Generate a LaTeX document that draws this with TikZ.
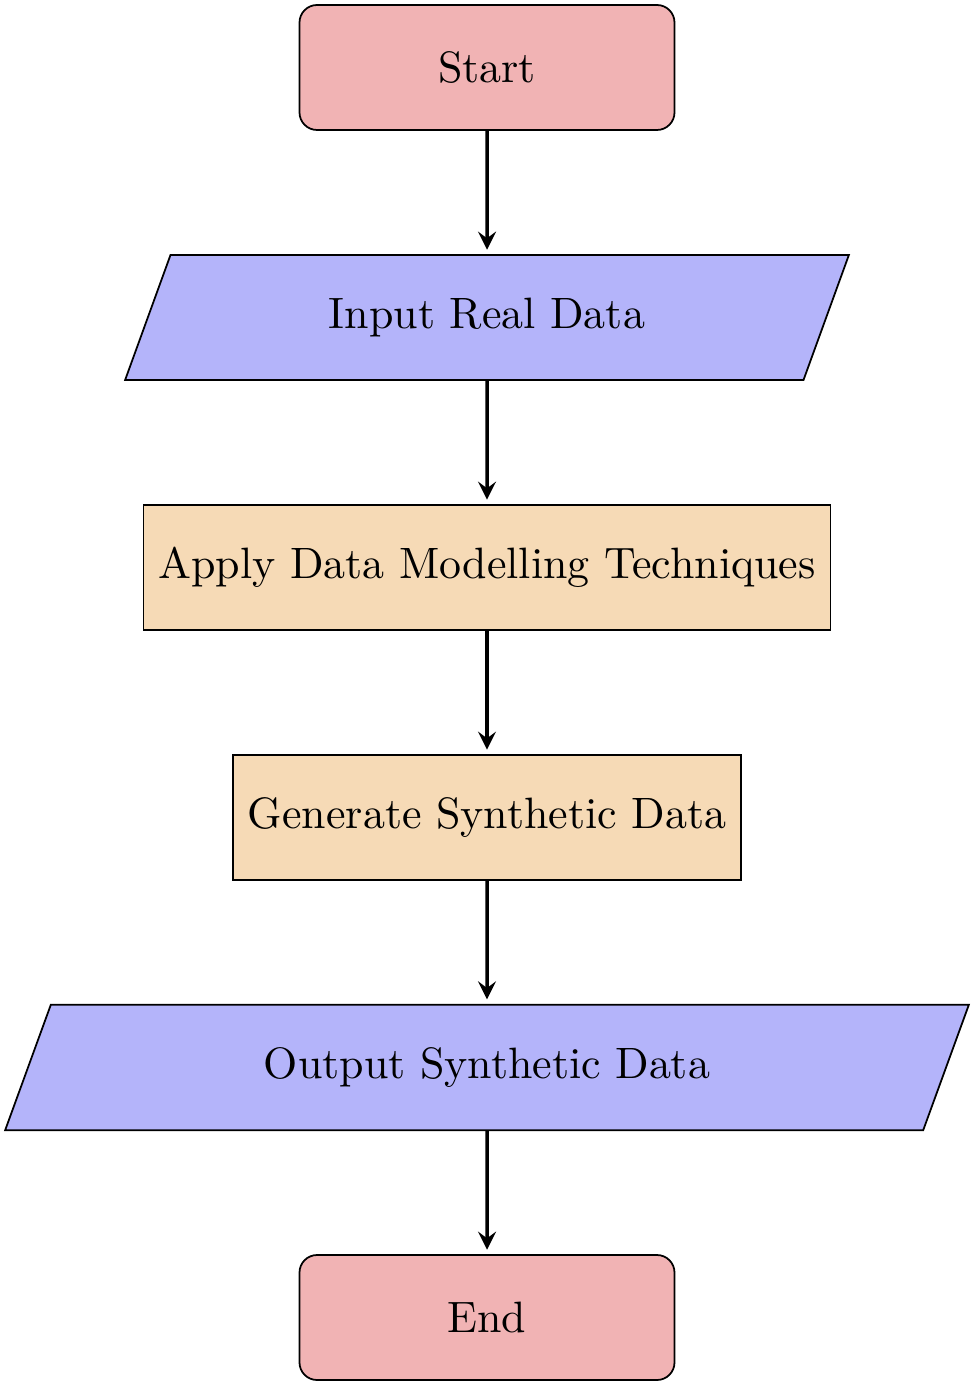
\documentclass[tikz,border=0pt]{standalone}
\usepackage[dvipsnames]{xcolor}
\usetikzlibrary{shapes.geometric,arrows}

\definecolor{termred}{RGB}{241,179,180}
\definecolor{ioblue}{RGB}{180,180,250}
\definecolor{procorange}{RGB}{246,218,182}

\begin{document}
\begin{tikzpicture}[->,>=stealth,shorten >=1pt,node distance=2cm,thick,
    term node/.style={rectangle,rounded corners,minimum width=3cm,minimum height=1cm,text centered,draw=black,thin,fill=termred},
    io node/.style={trapezium,trapezium left angle=70,trapezium right angle=110,trapezium stretches body,inner ysep=9.75pt,minimum height=1cm,text centered,draw=black,thin,fill=ioblue},
    proc node/.style={rectangle,minimum width=3cm,minimum height=1cm,text centered,draw=black,thin,fill=procorange}]
                \useasboundingbox (-3.896,-10.556) rectangle (3.896,0.54);
                \node[term node] (start) {Start};
                \node[io node,minimum width=5.79cm] (input) [below of=start] {Input Real Data};
                \node[proc node] (model) [below of=input] {Apply Data Modelling Techniques};
                \node[proc node] (gen) [below of=model] {Generate Synthetic Data};
                \node[io node,minimum width=7.71cm] (output) [below of=gen] {Output Synthetic Data};
                \node[term node] (stop) [below of=output] {End};

                \path
                    (start) edge (input)
                    (input) edge (model)
                    (model) edge (gen)
                    (gen) edge (output)
                    (output) edge (stop)
                    ;
            \end{tikzpicture}
\end{document}
